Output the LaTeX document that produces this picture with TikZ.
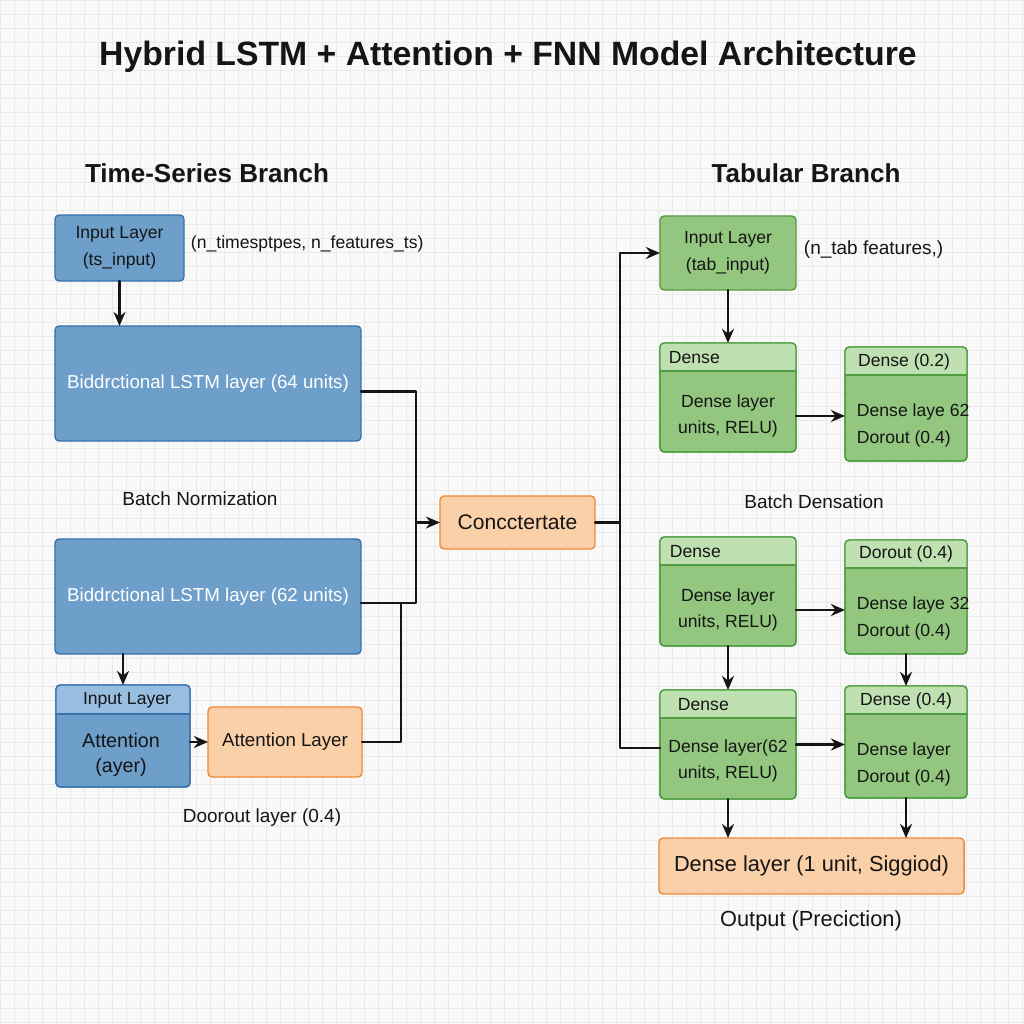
\documentclass[tikz,border=0pt]{standalone}
\usepackage{fontspec}
\setmainfont{Liberation Sans}
\usetikzlibrary{arrows.meta}
\definecolor{ink}{HTML}{151515}
\definecolor{paper}{HTML}{F9F9F9}
\definecolor{gridc}{HTML}{E9E9E9}
\definecolor{tsfill}{HTML}{6E9FCB}
\definecolor{tsline}{HTML}{3A71AD}
\definecolor{tshead}{HTML}{97BDE0}
\definecolor{tbfill}{HTML}{93C67F}
\definecolor{tbline}{HTML}{4F9D40}
\definecolor{tbhead}{HTML}{BFE0B1}
\definecolor{orfill}{HTML}{FAD0A8}
\definecolor{orline}{HTML}{EE8A3A}
\begin{document}
\begin{tikzpicture}[x=0.025cm, y=-0.025cm, line join=round, line cap=round, >={Stealth[length=10pt, width=8.5pt]},
	bx/.style={rounded corners=3pt, outer sep=0pt, inner sep=0pt, line width=1pt},
	blu/.style={bx, fill=tsfill, draw=tsline},
	grn/.style={bx, fill=tbfill, draw=tbline},
	org/.style={bx, fill=orfill, draw=orline},
	txt/.style={font={\fontsize{12.5}{19}\selectfont}, text=ink, align=center},
	lbl/.style={font={\fontsize{13.5}{16}\selectfont}, text=ink},
	hd/.style={font={\bfseries\fontsize{18.5}{22}\selectfont}, text=ink},
	arr/.style={->, line width=1.6pt, draw=ink},
	ln/.style={line width=1.6pt, draw=ink}]
	\useasboundingbox (0,0) rectangle (1024,1024);
	\fill[paper] (0,0) rectangle (1024,1024);
	\draw[gridc, line width=0.5pt, step=0.35cm] (0,0) grid (1024,1024);

	\node[hd, font={\bfseries\fontsize{24}{28}\selectfont}] (title) at (508,57) {Hybrid LSTM + Attention + FNN Model Architecture};
	\node[hd] (tshd) at (207,173) {Time-Series Branch};
	\node[hd] (tbhd) at (806,173) {Tabular Branch};

	\node[blu, txt, minimum width=3.225cm, minimum height=1.65cm] (tsin) at (119.5,248) {Input Layer\\(ts\_input)};
	\node[txt, anchor=west] (tsdim) at (186,244) {(n\_timesptpes, n\_features\_ts)};
	\node[blu, txt, text=white, font={\fontsize{13.3}{16}\selectfont}, minimum width=7.65cm, minimum height=2.875cm] (lstmA) at (208,383.5) {Biddrctional LSTM layer (64 units)};
	\node[lbl] (bnorm) at (200,499) {Batch Normization};
	\node[blu, txt, text=white, font={\fontsize{13.3}{16}\selectfont}, minimum width=7.65cm, minimum height=2.875cm] (lstmB) at (208,596.5) {Biddrctional LSTM layer (62 units)};
	\node[blu, minimum width=3.35cm, minimum height=2.55cm] (attin) at (123,736) {};
	\node[org, txt, font={\fontsize{13.3}{16}\selectfont}, minimum width=3.85cm, minimum height=1.75cm] (attl) at (285,742) {Attention Layer};
	\node[lbl] (drop) at (262,818) {Doorout layer (0.4)};
	\node[org, txt, font={\fontsize{15}{18}\selectfont}, minimum width=3.875cm, minimum height=1.325cm] (cat) at (517.5,522.5) {Concctertate};

	\node[grn, txt, minimum width=3.4cm, minimum height=1.85cm] (tabin) at (728,253) {Input Layer\\(tab\_input)};
	\node[txt, font={\fontsize{13.5}{16}\selectfont}, anchor=west] (tbdim) at (799,250) {(n\_tab features,)};
	\node[grn, minimum width=3.4cm, minimum height=2.725cm] (dA) at (728,397.5) {};
	\node[grn, minimum width=3.05cm, minimum height=2.85cm] (rA) at (906,404) {};
	\node[lbl] (bdens) at (814,502) {Batch Densation};
	\node[grn, minimum width=3.4cm, minimum height=2.725cm] (dB) at (728,591.5) {};
	\node[grn, minimum width=3.05cm, minimum height=2.85cm] (rB) at (906,597) {};
	\node[grn, minimum width=3.4cm, minimum height=2.725cm] (dC) at (728,744.5) {};
	\node[grn, minimum width=3.05cm, minimum height=2.8cm] (rC) at (906,742) {};
	\node[org, txt, font={\fontsize{15.5}{18}\selectfont}, minimum width=7.625cm, minimum height=1.4cm] (out) at (811.5,866) {Dense layer (1 unit, Siggiod)};
	\node[lbl, font={\fontsize{15.5}{18}\selectfont}] (pred) at (811,921) {Output (Preciction)};

	\foreach \b in {dA,dB,dC,rA,rB,rC}{
		\begin{scope}
			\clip[rounded corners=3pt] (\b.south west) rectangle (\b.north east);
			\fill[tbhead] (\b.north west) rectangle ([yshift=-0.7cm]\b.north east);
		\end{scope}
		\draw[tbline, line width=1pt] ([yshift=-0.7cm]\b.north west) -- ([yshift=-0.7cm]\b.north east);
		\draw[tbline, line width=1pt, rounded corners=3pt] (\b.south west) rectangle (\b.north east);
	}
	\begin{scope}
		\clip[rounded corners=3pt] (attin.south west) rectangle (attin.north east);
		\fill[tshead] (attin.north west) rectangle ([yshift=-0.725cm]attin.north east);
	\end{scope}
	\draw[tsline, line width=1pt] ([yshift=-0.725cm]attin.north west) -- ([yshift=-0.725cm]attin.north east);
	\draw[tsline, line width=1pt, rounded corners=3pt] (attin.south west) rectangle (attin.north east);

	\node[txt] (attinh) at (127,700) {Input Layer};
	\node[txt, font={\fontsize{14}{18}\selectfont}] (attinb) at (121,755) {Attention\\(ayer)};
	\node[txt, anchor=west] (dAh) at (664,358) {Dense};
	\node[txt] (dAb) at (728,416) {Dense layer\\units, RELU)};
	\node[txt] (rAh) at (904,362) {Dense (0.2)};
	\node[txt, align=left, anchor=west] (rAb) at (852,425.5) {Dense laye 62\\Dorout (0.4)};
	\node[txt, anchor=west] (dBh) at (665,552) {Dense};
	\node[txt] (dBb) at (728,610) {Dense layer\\units, RELU)};
	\node[txt] (rBh) at (906,554) {Dorout (0.4)};
	\node[txt, align=left, anchor=west] (rBb) at (852,618.5) {Dense laye 32\\Dorout (0.4)};
	\node[txt, anchor=west] (dCh) at (673,705) {Dense};
	\node[txt] (dCb) at (728,761) {Dense layer(62\\units, RELU)};
	\node[txt] (rCh) at (906,701) {Dense (0.4)};
	\node[txt, align=left, anchor=west] (rCb) at (852,764.5) {Dense layer\\Dorout (0.4)};

	\coordinate (jL) at (416,523);
	\coordinate (jA) at (401,603);
	\coordinate (jT) at (620,253);
	\coordinate (jB) at (620,748);
	\draw[arr] (tsin.south) -- (tsin.south |- lstmA.north);
	\draw[arr] (lstmB.south -| attin.north) -- (attin.north);
	\draw[arr] (attin.east |- attl.west) -- (attl.west);
	\draw[ln] ([yshift=-0.2cm]lstmA.east) -| (jL) |- ([yshift=-0.16cm]lstmB.east);
	\draw[ln] (attl.east) -| (jA);
	\draw[arr] (cat.west -| jL) -- (cat.west);
	\draw[arr] (cat.east) -| (jT) -- (tabin.west);
	\draw[ln] (cat.east -| jB) -- (jB) -- (jB -| dC.west);
	\draw[arr] (tabin.south) -- (dA.north);
	\draw[arr] (dA.east |- dAb) -- (rA.west |- dAb);
	\draw[arr] (dB.east |- dBb) -- (rB.west |- dBb);
	\draw[arr] (dC.east) -- (rC.west |- dC.east);
	\draw[arr] (dB.south) -- (dC.north);
	\draw[arr] (rB.south) -- (rC.north);
	\draw[arr] (dC.south) -- (dC.south |- out.north);
	\draw[arr] (rC.south) -- (rC.south |- out.north);
\end{tikzpicture}
\end{document}
